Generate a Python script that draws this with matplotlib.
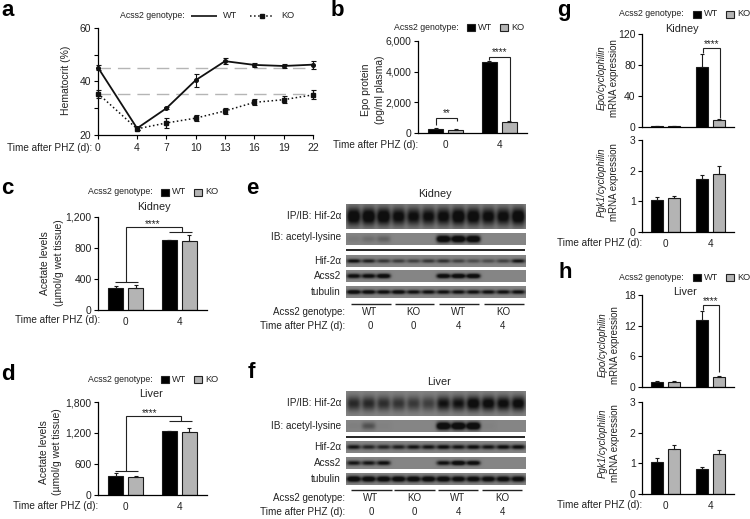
import numpy as np
import matplotlib
matplotlib.use("Agg")
import matplotlib.pyplot as plt
from matplotlib.patches import Rectangle

plt.rcParams["font.family"] = ["Liberation Sans", "DejaVu Sans"]
plt.rcParams["text.color"] = "#222222"
plt.rcParams["xtick.labelcolor"] = "#222222"
plt.rcParams["ytick.labelcolor"] = "#222222"

W, H = 750, 519
FS = 7.2
FS_SMALL = 6.3
GREY = "#b4b4b4"

# panel a
days = [0, 4, 7, 10, 13, 16, 19, 22]
hct_wt = [45.2, 22.5, 30.0, 40.5, 47.6, 46.2, 45.8, 46.3]
hct_wt_err = [1.0, 0.6, 0.4, 2.4, 1.2, 0.9, 0.9, 1.5]
hct_ko = [35.5, 22.3, 24.5, 26.3, 29.0, 32.2, 33.2, 35.0]
hct_ko_err = [1.5, 0.6, 1.7, 1.0, 1.1, 1.1, 1.4, 1.7]
hct_ref = [45.2, 35.2]

# panels b, c, d, g, h: WT day 0, KO day 0, WT day 4, KO day 4
epo_protein = [280, 180, 4620, 720]
epo_protein_err = [15, 100, 60, 80]
kidney_acetate = [280, 290, 900, 885]
kidney_acetate_err = [30, 30, 5, 85]
liver_acetate = [375, 345, 1240, 1215]
liver_acetate_err = [50, 30, 5, 75]
kidney_epo = [1.0, 0.8, 78, 8.5]
kidney_epo_err = [0.2, 0.2, 16, 1.5]
kidney_pgk1 = [1.05, 1.1, 1.72, 1.9]
kidney_pgk1_err = [0.1, 0.08, 0.13, 0.25]
liver_epo = [1.05, 1.0, 13.2, 2.0]
liver_epo_err = [0.1, 0.1, 1.7, 0.25]
liver_pgk1 = [1.05, 1.48, 0.83, 1.32]
liver_pgk1_err = [0.12, 0.12, 0.05, 0.12]
time_labels = ["0", "4"]

# blots: band strength per lane, 12 lanes
e_ip = [1.3, 1.3, 1.3, 1.15, 1.1, 1.1, 1.15, 1.3, 1.25, 1.15, 1.15, 1.3]
e_acetyl = [.1, .2, .3, 0, 0, 0, 1.6, 1.6, 1.6, 0, 0, 0]
e_hif = [1.1, .9, .7, .65, .6, .7, .75, .6, .5, .5, .6, 1.0]
e_acss2 = [1.2, 1.2, 1.4, 0, 0, 0, 1.4, 1.5, 1.5, 0, 0, 0]
e_tub = [1.4, 1.3, 1.2, 1.3, 1.1, 1.1, 1.1, 1.1, 1.1, 1.1, 1.1, 1.1]
f_ip = [.8, .8, .75, .7, .65, .6, 1.0, 1.0, 1.2, 1.15, 1.1, 1.15]
f_acetyl = [.05, .45, .03, 0, 0, 0, 1.7, 1.7, 1.7, .03, 0, 0]
f_hif = [1.0, .85, .85, .9, 1.0, 1.0, 1.1, 1.0, 1.1, 1.0, 1.1, 1.1]
f_acss2 = [1.0, 1.0, 1.1, 0, 0, 0, 1.1, 1.5, 1.3, 0, 0, 0]
f_tub = [1.5, 1.4, 1.4, 1.4, 1.4, 1.4, 1.4, 1.3, 1.3, 1.3, 1.3, 1.3]
blot_genotype = ["WT", "KO", "WT", "KO"]
blot_time = ["0", "0", "4", "4"]

fig = plt.figure(figsize=(W / 100, H / 100), dpi=100)


def px_axes(x0, y0, x1, y1):
    return fig.add_axes([x0 / W, 1 - y1 / H, (x1 - x0) / W, (y1 - y0) / H])


def bar_panel(box, values, errs, ymax, ticks, ticklabels, xlabels=True):
    ax = px_axes(*box)
    xs = np.array([0, 0, 1, 1])
    off = np.array([-0.185, 0.185, -0.185, 0.185])
    colors = ["black", GREY, "black", GREY]
    ax.bar(xs + off, values, width=0.27, color=colors, edgecolor="#1a1a1a", lw=0.8)
    ax.errorbar(xs + off, values, yerr=[np.zeros(4), errs], fmt="none",
                ecolor="#1a1a1a", elinewidth=0.8, capsize=1.2, capthick=0.8)
    ax.set_xlim(-0.51, 1.51)
    ax.set_ylim(0, ymax)
    ax.set_yticks(ticks)
    ax.set_yticklabels(ticklabels, fontsize=FS + 0.3)
    ax.set_xticks([0, 1])
    if xlabels:
        ax.set_xticklabels(time_labels, fontsize=FS)
    else:
        ax.set_xticklabels([])
    ax.tick_params(axis="x", length=0, pad=5)
    ax.tick_params(axis="y", length=3, width=0.8, pad=1.5)
    for s in ("top", "right"):
        ax.spines[s].set_visible(False)
    for s in ("left", "bottom"):
        ax.spines[s].set_linewidth(0.9)
    ax.patch.set_alpha(0)
    return ax


def blot_strip(x0, y0, x1, y1, bands, band_h, bg=0.52):
    ax = px_axes(x0, y0, x1, y1)
    nx, ny = int(x1 - x0) * 2, int(y1 - y0) * 2
    xx = np.linspace(0, len(bands), nx)
    yy = np.linspace(-0.5, 0.5, ny)
    img = np.zeros((ny, nx))
    for i, b in enumerate(bands):
        lane = np.exp(-((xx - (i + 0.5)) / 0.46) ** 4)
        img += b * lane[None, :] * np.exp(-(yy[:, None] / band_h) ** 2)
    ax.imshow(bg - (bg - 0.06) * np.clip(img, 0, 1), cmap="gray", vmin=0, vmax=1,
              aspect="auto", interpolation="bilinear")
    ax.axis("off")


# panel a
ax = px_axes(98, 28, 313, 135)
ax.axhline(hct_ref[0], color="#b5b5b5", lw=1, dashes=(9, 5), zorder=1)
ax.axhline(hct_ref[1], color="#b5b5b5", lw=1, dashes=(9, 5), zorder=1)
ax.errorbar(days, hct_wt, yerr=hct_wt_err, color="#111111", lw=1.3, marker="o", ms=2.6,
            elinewidth=0.8, capsize=1.8, capthick=0.8, clip_on=False, zorder=3)
ax.errorbar(days, hct_ko, yerr=hct_ko_err, color="#111111", lw=1.1, ls=":", marker="s", ms=3,
            elinewidth=0.9, capsize=1.8, capthick=0.8, clip_on=False, zorder=3)
ax.set_xlim(0, 22)
ax.set_ylim(20, 60)
ax.set_xticks(days)
ax.set_xticklabels([str(d) for d in days], fontsize=FS + 0.3)
ax.set_yticks([20, 30, 40, 50, 60])
ax.set_yticklabels(["20", "", "40", "", "60"], fontsize=FS + 0.3)
ax.tick_params(axis="both", length=3, width=0.8, pad=2)
ax.tick_params(axis="x", pad=3)
for s in ("top", "right"):
    ax.spines[s].set_visible(False)
for s in ("left", "bottom"):
    ax.spines[s].set_linewidth(0.9)
ax.patch.set_alpha(0)

# bar panels
bar_panel((418, 41, 527, 133), epo_protein, epo_protein_err, 6000,
          [0, 2000, 4000, 6000], ["0", "2,000", "4,000", "6,000"])
bar_panel((98, 217, 207, 310), kidney_acetate, kidney_acetate_err, 1200,
          [0, 400, 800, 1200], ["0", "400", "800", "1,200"])
bar_panel((98, 402, 207, 495), liver_acetate, liver_acetate_err, 1800,
          [0, 600, 1200, 1800], ["0", "600", "1,200", "1,800"])
bar_panel((642, 34, 734, 127), kidney_epo, kidney_epo_err, 120,
          [0, 40, 80, 120], ["0", "40", "80", "120"], xlabels=False)
bar_panel((642, 140, 734, 232), kidney_pgk1, kidney_pgk1_err, 3,
          [0, 1, 2, 3], ["0", "1", "2", "3"])
bar_panel((642, 295, 734, 387), liver_epo, liver_epo_err, 18,
          [0, 6, 12, 18], ["0", "6", "12", "18"], xlabels=False)
bar_panel((642, 402, 734, 494), liver_pgk1, liver_pgk1_err, 3,
          [0, 1, 2, 3], ["0", "1", "2", "3"])

# blots
for bands, y0, y1, bh in [(e_ip, 204, 229, 0.36), (e_acetyl, 233, 245, 0.3),
                          (e_hif, 255, 267, 0.17), (e_acss2, 270, 282, 0.2),
                          (e_tub, 286, 298, 0.18), (f_ip, 391, 416, 0.3),
                          (f_acetyl, 420, 432, 0.32), (f_hif, 441, 453, 0.2),
                          (f_acss2, 457, 469, 0.2), (f_tub, 473, 485, 0.25)]:
    blot_strip(346, y0, 526, y1, bands, bh)

# everything annotated in pixels on top
ov = fig.add_axes([0, 0, 1, 1], zorder=10)
ov.set_xlim(0, W)
ov.set_ylim(H, 0)
ov.axis("off")


def txt(x, y, s, size=FS, ha="center", **kw):
    ov.text(x, y, s, fontsize=size, ha=ha, va="center", **kw)


def path(xs, ys, lw=0.8, color="#222222"):
    ov.plot(xs, ys, color=color, lw=lw, solid_capstyle="butt", solid_joinstyle="miter")


def swatch_legend(x_text, y, x_wt, x_ko):
    txt(x_text, y, "Acss2 genotype:", FS_SMALL, ha="right")
    for x, c, label in [(x_wt, "black", "WT"), (x_ko, GREY, "KO")]:
        ov.add_patch(Rectangle((x, y - 3.5), 7.5, 7.5, fc=c, ec="#222222", lw=0.8))
        txt(x + 11, y, label, FS_SMALL + 0.3, ha="left")


# panel letters
for x, y, s in [(1, 11, "a"), (331, 10, "b"), (1, 188, "c"), (1, 374, "d"),
                (246, 188, "e"), (248, 373, "f"), (557, 10.5, "g"), (559, 272, "h")]:
    txt(x, y, s, 16, ha="left", fontweight="bold", color="black")

# legends
txt(185, 16, "Acss2 genotype:", FS_SMALL, ha="right")
path([191, 217], [16, 16], lw=1.3)
txt(223, 16, "WT", FS_SMALL + 0.3, ha="left")
ov.plot([250, 273], [16, 16], color="#111111", lw=1.1, ls=":")
ov.plot([261.5], [16], color="#111111", marker="s", ms=3)
txt(281, 16, "KO", FS_SMALL + 0.3, ha="left")
swatch_legend(459, 27, 467, 500)
swatch_legend(153, 192, 161, 194)
swatch_legend(153, 379, 161, 194)
swatch_legend(684, 14, 693, 726)
swatch_legend(684, 277, 693, 726)

# titles
for x, y, s in [(154, 207, "Kidney"), (151, 394, "Liver"), (682, 29, "Kidney"),
                (685, 292, "Liver"), (435, 194, "Kidney"), (439, 382, "Liver")]:
    txt(x, y, s, 7.8)

# time labels
for x, y in [(92, 148), (418, 145), (100, 320), (98, 506), (642, 243), (642, 505)]:
    txt(x, y, "Time after PHZ (d):", FS, ha="right")

# y labels
txt(66, 80, "Hematocrit (%)", 7.5, rotation=90)
for x, y, s in [(366, 90, "Epo protein"), (380, 90, "(pg/ml plasma)"),
                (45, 263, "Acetate levels"), (59, 263, "(µmol/g wet tissue)"),
                (44, 452, "Acetate levels"), (57, 452, "(µmol/g wet tissue)")]:
    txt(x, y, s, 7.4, rotation=90)
for x, y, s in [(614, 78, "mRNA expression"), (614, 182, "mRNA expression"),
                (615, 345, "mRNA expression"), (615, 443, "mRNA expression")]:
    txt(x, y, s, 7.0, rotation=90)
for x, y, s in [(602, 78, "Epo/cyclophilin"), (602, 182, "Pgk1/cyclophilin"),
                (603, 345, "Epo/cyclophilin"), (603, 443, "Pgk1/cyclophilin")]:
    txt(x, y, s, 7.0, rotation=90, style="italic")

# significance brackets
path([436, 436, 457, 457], [125, 118, 118, 121])
txt(446.5, 113, "**", FS)
path([489, 489, 510, 510], [60, 57, 57, 121])
txt(500, 52, "****", FS)
for y_low, y_top, x_top, xt, yt in [(282, 227, 182, 153, 224), (471, 416, 181, 150, 413)]:
    path([115, 138], [y_low, y_low])
    path([126, 126, x_top, x_top], [y_low, y_top, y_top, y_top + 5])
    path([169, 192], [y_top + 5, y_top + 5])
    txt(xt, yt, "****", FS)
path([703, 703, 720, 720], [53, 48, 48, 118])
txt(712, 44, "****", FS)
path([703, 703, 719, 719], [310, 305, 305, 372])
txt(711, 301, "****", FS)

# blot labels
for ys in [(216, 237, 261, 276, 292), (403, 426, 447, 463, 479)]:
    for y, s in zip(ys, ["IP/IB: Hif-2α", "IB: acetyl-lysine", "Hif-2α", "Acss2", "tubulin"]):
        txt(341, y, s, FS, ha="right")
path([346, 525], [250, 250], lw=1.2, color="black")
path([346, 525], [437, 437], lw=1.2, color="black")
for y, segs in [(304, [(351, 391), (395, 434), (439, 479), (484, 524)]),
                (490, [(351, 392), (394, 435), (438, 478), (482, 522)])]:
    for a, b in segs:
        path([a, b], [y, y], lw=1.0)
for yg, yt, xs in [(312, 326, (370, 413, 459, 503)), (498, 512, (371, 414, 458, 502))]:
    txt(345, yg, "Acss2 genotype:", 7.0, ha="right")
    txt(345, yt, "Time after PHZ (d):", FS, ha="right")
    for x, g, t in zip(xs, blot_genotype, blot_time):
        txt(x, yg, g, 7.0)
        txt(x, yt, t, 7.0)

fig.savefig("out.png", dpi=100)
